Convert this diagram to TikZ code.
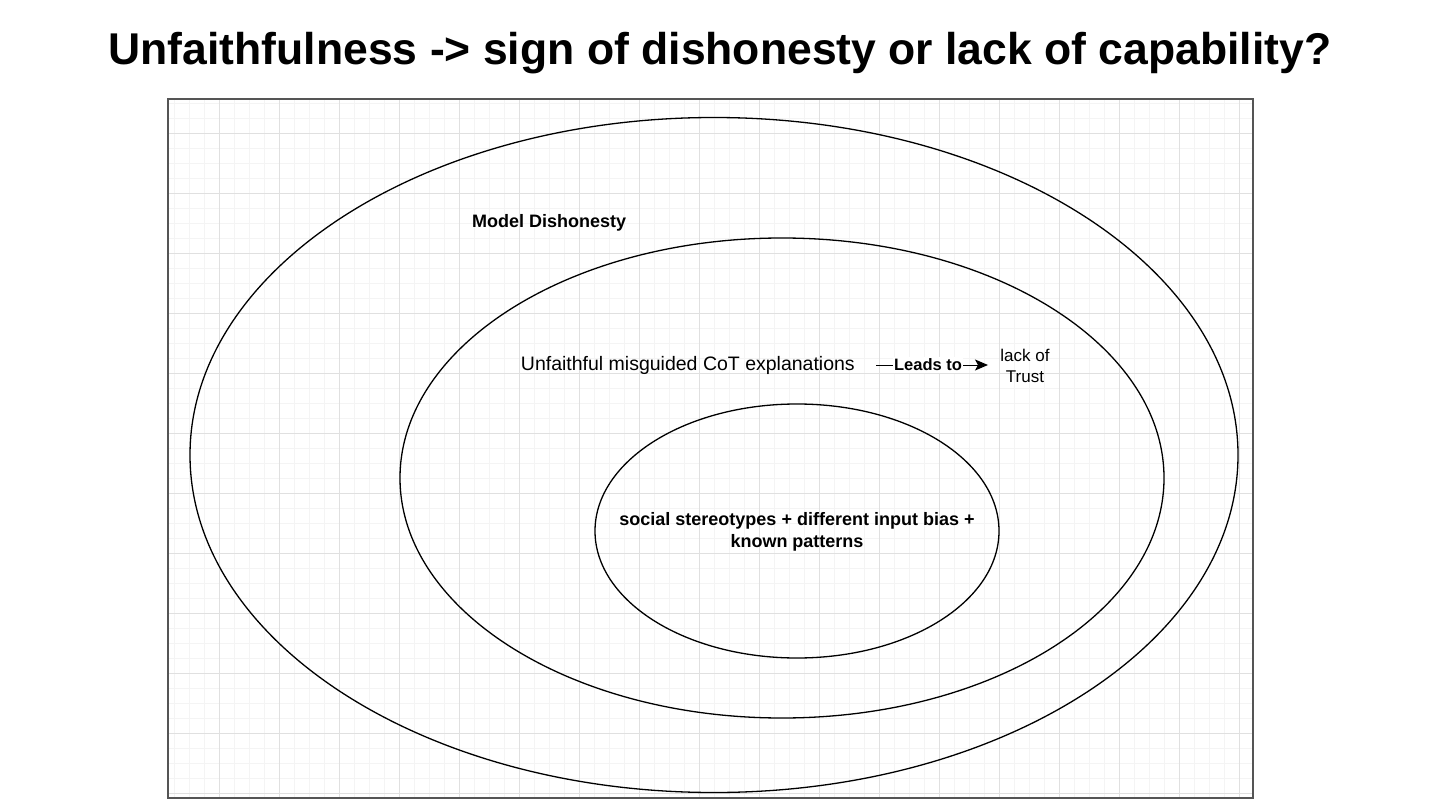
\documentclass[tikz,border=0pt]{standalone}
\usepackage{fontspec}
\setmainfont{Liberation Sans}
\usetikzlibrary{shapes.geometric,arrows.meta}
\definecolor{minorgrid}{HTML}{F4F4F4}
\definecolor{majorgrid}{HTML}{E0E0E0}
\definecolor{frame}{HTML}{555555}
\tikzset{
  ring/.style={ellipse, draw=black, line width=1.3pt, inner sep=0pt},
  plain/.style={align=center, inner sep=0pt, font=\fontsize{19.5}{23}\selectfont},
  boldlabel/.style={align=center, inner sep=0pt, font=\bfseries\fontsize{18}{21.5}\selectfont},
  link/.style={line width=1pt, -{Stealth[length=13pt,width=11pt,inset=3pt]}},
}
\begin{document}
\begin{tikzpicture}[x=1pt,y=-1pt]
\useasboundingbox (0,0) rectangle (1440,810);
\fill[white] (0,0) rectangle (1440,810);
% grid
\foreach \x in {174,189,...,1252} \draw[minorgrid, line width=0.8pt] (\x,99) -- (\x,798);
\foreach \y in {103,118,...,797} \draw[minorgrid, line width=0.8pt] (168,\y) -- (1253,\y);
\foreach \x in {219,279,...,1252} \draw[majorgrid, line width=0.8pt] (\x,99) -- (\x,798);
\foreach \y in {133,193,...,797} \draw[majorgrid, line width=0.8pt] (168,\y) -- (1253,\y);
\draw[frame, line width=1.6pt] (168,99) rectangle (1253,798);
% title
\node[font=\bfseries\fontsize{44.5}{52}\selectfont, inner sep=0pt, anchor=base] (title) at (720,65) {Unfaithfulness -> sign of dishonesty or lack of capability?};
% ellipses
\node[ring, minimum width=1048pt, minimum height=675pt] (outer) at (714,455) {};
\node[ring, minimum width=764pt, minimum height=480pt] (middle) at (782,478) {};
\node[ring, minimum width=404pt, minimum height=254pt] (inner) at (797,531) {};
% labels
\node[boldlabel, anchor=west] (dish) at (472,223) {Model Dishonesty};
\node[plain, anchor=east] (cot) at (855,365) {Unfaithful misguided CoT explanations};
\node[plain, anchor=center, font=\fontsize{17}{21}\selectfont] (trust) at (1025,366) {lack of\\Trust};
\node[boldlabel] (bias) at (797,532) {social stereotypes + different input bias +\\known patterns};
% connector
\draw[link] (cot.east) ++(21,0) coordinate (a0) -- (988,365) coordinate (a1)
  node[midway, fill=white, inner sep=1.5pt, font=\bfseries\fontsize{16.5}{19}\selectfont, xshift=-4pt] (leads) {Leads to};
\end{tikzpicture}
\end{document}
